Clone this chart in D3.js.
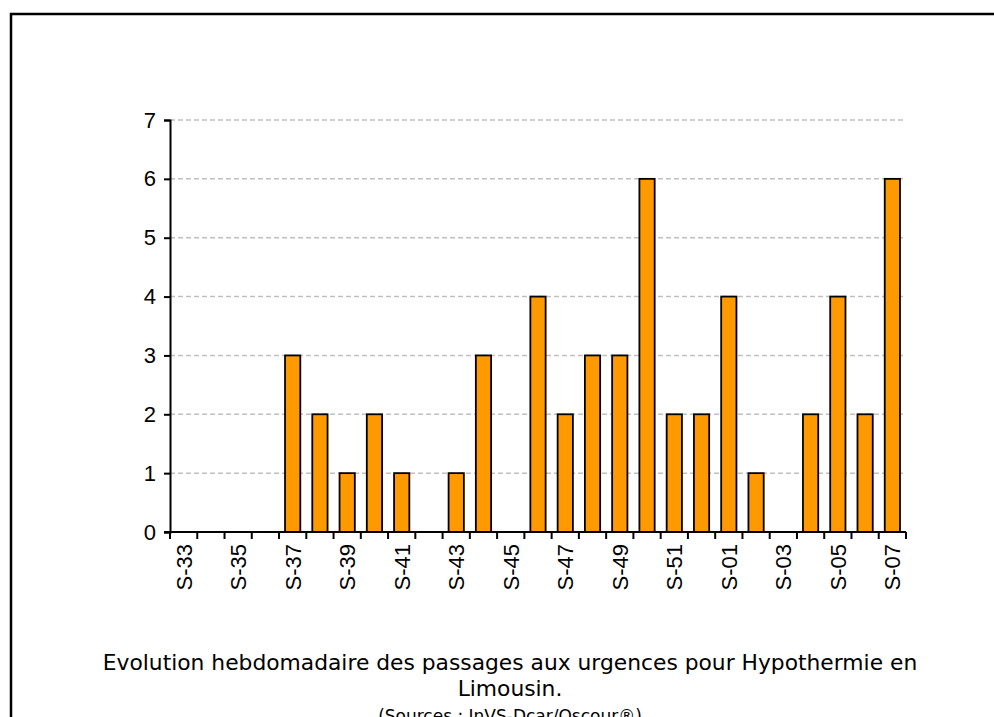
<!DOCTYPE html>
<html>
<head>
<meta charset="utf-8">
<script src="https://cdn.jsdelivr.net/npm/d3@7"></script>
<style>
  html, body { margin: 0; padding: 0; background: #fff; }
  svg text { font-family: "Liberation Sans", Arial, sans-serif; fill: #000; }
  .title text { font-family: "DejaVu Sans", sans-serif; }
</style>
</head>
<body>
<div id="chart"></div>
<script>
// weekly emergency visits for hypothermia
const weeks = ["S-33", "S-34", "S-35", "S-36", "S-37", "S-38", "S-39", "S-40", "S-41",
  "S-42", "S-43", "S-44", "S-45", "S-46", "S-47", "S-48", "S-49", "S-50", "S-51",
  "S-52", "S-01", "S-02", "S-03", "S-04", "S-05", "S-06", "S-07"];
const visits = [0, 0, 0, 0, 3, 2, 1, 2, 1, 0, 1, 3, 0, 4, 2, 3, 3, 6, 2, 2, 4, 1, 0, 2, 4, 2, 6];
const yTicks = [0, 1, 2, 3, 4, 5, 6, 7];
const titleLines = [
  "Evolution hebdomadaire des passages aux urgences pour Hypothermie en",
  "Limousin.",
  "(Sources : InVS-Dcar/Oscour\u00ae)"
];

const width = 994;
const height = 717;
const margin = { top: 120, left: 170, right: 88, bottom: 185 };

const svg = d3.select("#chart")
  .append("svg")
  .attr("width", width)
  .attr("height", height);

// outer frame (top + left edges visible)
svg.append("path")
  .attr("d", `M11,${height} V14 H${width}`)
  .attr("fill", "none")
  .attr("stroke", "#000")
  .attr("stroke-width", 2.5);

const x = d3.scaleBand()
  .domain(weeks)
  .range([margin.left, width - margin.right])
  .paddingInner(0.44)
  .paddingOuter(0.22);

const y = d3.scaleLinear()
  .domain([0, 7])
  .range([height - margin.bottom, margin.top]);

// grid
svg.append("g")
  .selectAll("line")
  .data(yTicks.filter((d) => d > 0))
  .join("line")
  .attr("x1", margin.left)
  .attr("x2", width - margin.right)
  .attr("y1", (d) => y(d))
  .attr("y2", (d) => y(d))
  .attr("stroke", "#c0c0c0")
  .attr("stroke-width", 1.5)
  .attr("stroke-dasharray", "5,3");

// bars
svg.append("g")
  .selectAll("rect")
  .data(weeks.map((w, i) => ({ week: w, value: visits[i] })).filter((d) => d.value > 0))
  .join("rect")
  .attr("x", (d) => x(d.week))
  .attr("y", (d) => y(d.value))
  .attr("width", x.bandwidth())
  .attr("height", (d) => y(0) - y(d.value))
  .attr("fill", "#ff9900")
  .attr("stroke", "#000")
  .attr("stroke-width", 1.8);

// y axis
const yAxis = svg.append("g")
  .attr("transform", `translate(${margin.left},0)`)
  .call(d3.axisLeft(y).tickValues(yTicks).tickSize(6).tickPadding(8).tickFormat(d3.format("d")));
yAxis.select(".domain").attr("stroke-width", 2);
yAxis.selectAll(".tick line").attr("stroke-width", 2);
yAxis.selectAll("text").style("font-size", "22px");

// x axis: ticks at band boundaries, labels every other week
const xg = svg.append("g").attr("transform", `translate(0,${y(0)})`);
xg.append("line")
  .attr("x1", margin.left - 6)
  .attr("x2", width - margin.right)
  .attr("stroke", "#000")
  .attr("stroke-width", 2);

const step = x.step();
const boundaries = d3.range(weeks.length + 1).map((i) => margin.left + i * step);
xg.selectAll(".xtick")
  .data(boundaries)
  .join("line")
  .attr("class", "xtick")
  .attr("x1", (d) => d)
  .attr("x2", (d) => d)
  .attr("y1", 0)
  .attr("y2", 7)
  .attr("stroke", "#000")
  .attr("stroke-width", 2);

xg.selectAll(".xlabel")
  .data(weeks.filter((w, i) => i % 2 === 0))
  .join("text")
  .attr("class", "xlabel")
  .attr("transform", (d) => `translate(${x(d) + x.bandwidth() / 2 + 8},12) rotate(-90)`)
  .attr("text-anchor", "end")
  .style("font-size", "22px")
  .text((d) => d);

// title
svg.append("g")
  .attr("class", "title")
  .selectAll("text")
  .data(titleLines)
  .join("text")
  .attr("x", 510)
  .attr("y", (d, i) => 670 + i * 26)
  .attr("text-anchor", "middle")
  .style("font-size", (d, i) => (i === 2 ? "17px" : "21.8px"))
  .text((d) => d);
</script>
</body>
</html>
